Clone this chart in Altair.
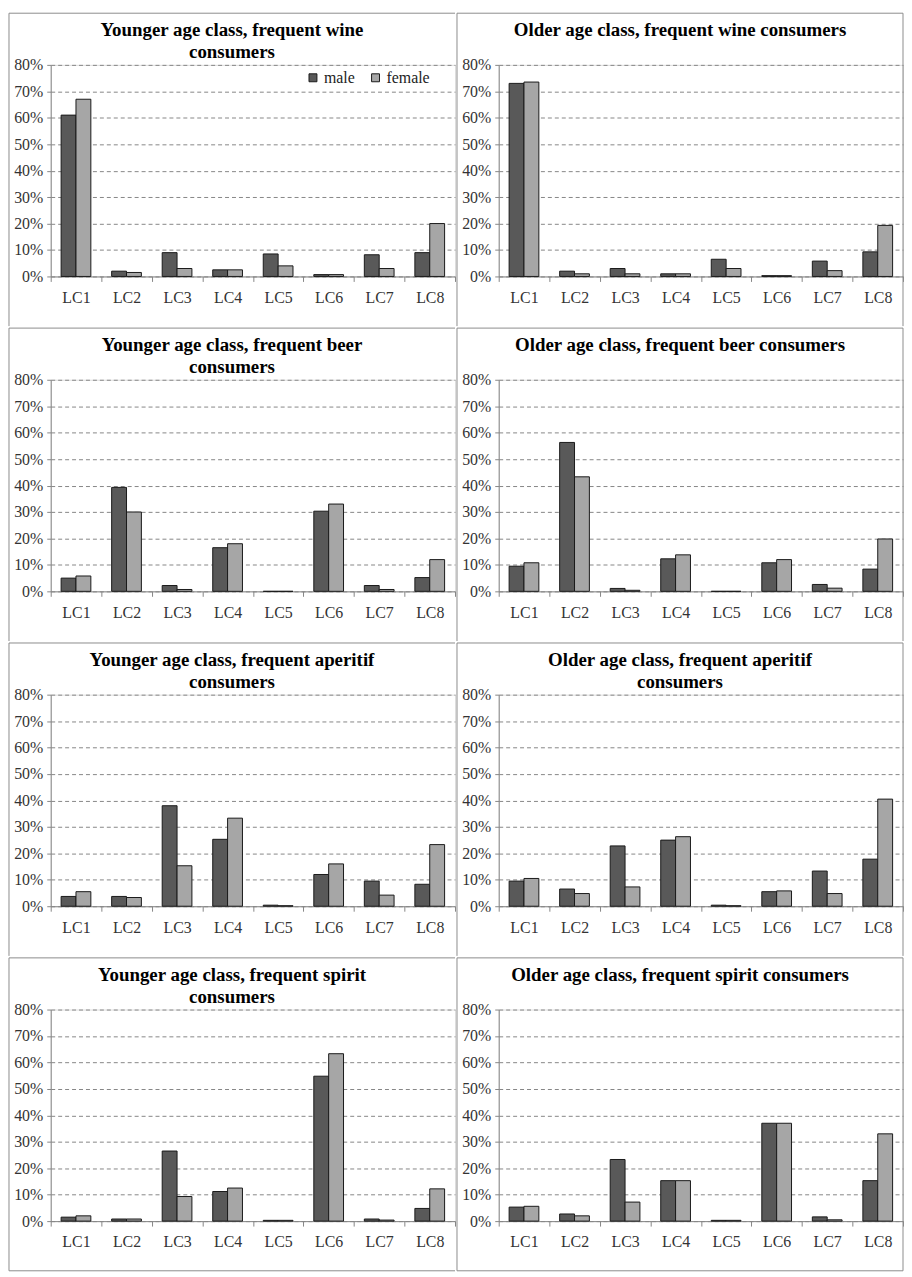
import altair as alt
import pandas as pd

classes = ["LC1", "LC2", "LC3", "LC4", "LC5", "LC6", "LC7", "LC8"]
sexes = ["male", "female"]
colors = ["#595959", "#a6a6a6"]
y_ticks = [0, 10, 20, 30, 40, 50, 60, 70, 80]

young_wine_male = [61.0, 2.0, 9.0, 2.5, 8.5, 0.7, 8.2, 9.0]
young_wine_female = [67.0, 1.5, 3.0, 2.5, 4.0, 0.7, 3.0, 20.0]
old_wine_male = [73.0, 2.0, 3.0, 1.0, 6.5, 0.3, 5.8, 9.3]
old_wine_female = [73.5, 1.0, 1.0, 1.0, 3.0, 0.3, 2.2, 19.3]
young_beer_male = [5.0, 39.3, 2.2, 16.5, 0.0, 30.3, 2.2, 5.2]
young_beer_female = [5.8, 30.0, 0.7, 18.0, 0.0, 33.0, 0.7, 12.0]
old_beer_male = [9.5, 56.3, 1.1, 12.3, 0.0, 10.8, 2.6, 8.4]
old_beer_female = [10.8, 43.3, 0.4, 13.8, 0.0, 12.0, 1.2, 19.8]
young_aperitif_male = [3.7, 3.7, 38.0, 25.3, 0.4, 12.0, 9.5, 8.3]
young_aperitif_female = [5.5, 3.3, 15.3, 33.3, 0.2, 16.0, 4.2, 23.3]
old_aperitif_male = [9.5, 6.5, 22.8, 25.0, 0.4, 5.5, 13.3, 17.8]
old_aperitif_female = [10.5, 4.8, 7.3, 26.3, 0.2, 5.8, 4.8, 40.5]
young_spirit_male = [1.5, 0.8, 26.5, 11.2, 0.3, 54.8, 0.8, 4.8]
young_spirit_female = [2.0, 0.8, 9.3, 12.5, 0.3, 63.3, 0.4, 12.2]
old_spirit_male = [5.3, 2.7, 23.3, 15.3, 0.3, 37.0, 1.6, 15.3]
old_spirit_female = [5.6, 2.0, 7.2, 15.3, 0.3, 37.0, 0.5, 33.0]

FONT = "Liberation Serif"
GREY = "#868686"
BORDER = "#8c8c8c"
W, H = 407, 213
LEFT, TOP, BOTTOM = -42, -52, 263


def edge(one, x1, x2, y1, y2):
    return alt.Chart(one).mark_rule(color=BORDER, strokeWidth=1).encode(
        x=alt.value(x1), x2=alt.value(x2), y=alt.value(y1), y2=alt.value(y2))


def panel(title_text, male, female, show_legend=False, right=False, bottom=False):
    df = pd.DataFrame({
        "lc": classes * 2,
        "sex": ["male"] * len(classes) + ["female"] * len(classes),
        "pct": male + female,
    })
    if show_legend:
        leg = alt.Legend(title=None, orient="none", legendX=256, legendY=5,
                         direction="horizontal", symbolType="square", symbolSize=64,
                         symbolStrokeColor="#1a1a1a", symbolStrokeWidth=1,
                         labelFont=FONT, labelFontSize=16, labelColor="#222222",
                         labelOffset=3, columnPadding=12, padding=0)
    else:
        leg = None
    bars = alt.Chart(df).mark_bar(stroke="#1a1a1a", strokeWidth=1).encode(
        x=alt.X("lc:N", sort=classes, title=None,
                scale=alt.Scale(paddingInner=0, paddingOuter=0),
                axis=alt.Axis(labelAngle=0, tickBand="extent", tickSize=5,
                              tickColor=GREY, domainColor=GREY, grid=False,
                              labelFont=FONT, labelFontSize=16, labelColor="#333333",
                              labelPadding=8)),
        xOffset=alt.XOffset("sex:N", sort=sexes,
                            scale=alt.Scale(paddingInner=0, paddingOuter=0.7)),
        y=alt.Y("pct:Q", title=None, scale=alt.Scale(domain=[0, 80]),
                axis=alt.Axis(values=y_ticks, labelExpr="datum.value + '%'",
                              grid=True, gridDash=[4, 3], gridColor=GREY,
                              tickDash=[4, 3], tickSize=6, tickColor=GREY,
                              domainColor=GREY, labelFont=FONT, labelFontSize=16,
                              labelColor="#333333", labelPadding=2)),
        color=alt.Color("sex:N", scale=alt.Scale(domain=sexes, range=colors), legend=leg),
    )
    one = pd.DataFrame({"title": [title_text]})
    cell = alt.Chart(one).mark_rect(fill="white", fillOpacity=0, strokeWidth=0).encode(
        x=alt.value(LEFT), x2=alt.value(W), y=alt.value(TOP), y2=alt.value(BOTTOM))
    layers = [cell, edge(one, LEFT, W, TOP, TOP), edge(one, LEFT, LEFT, TOP, BOTTOM)]
    if right:
        layers.append(edge(one, W, W, TOP, BOTTOM))
    if bottom:
        layers.append(edge(one, LEFT, W, BOTTOM, BOTTOM))
    title = alt.Chart(one).mark_text(
        font=FONT, fontSize=19, fontWeight="bold", color="black", align="center",
        baseline="top", lineBreak="\n", lineHeight=22
    ).encode(x=alt.value((LEFT + W) / 2), y=alt.value(-44), text="title:N")
    layers += [bars, title]
    return alt.layer(*layers).properties(width=W, height=H)


p1 = panel("Younger age class, frequent wine\nconsumers", young_wine_male, young_wine_female, show_legend=True)
p2 = panel("Older age class, frequent wine consumers", old_wine_male, old_wine_female, right=True)
p3 = panel("Younger age class, frequent beer\nconsumers", young_beer_male, young_beer_female)
p4 = panel("Older age class, frequent beer consumers", old_beer_male, old_beer_female, right=True)
p5 = panel("Younger age class, frequent aperitif\nconsumers", young_aperitif_male, young_aperitif_female)
p6 = panel("Older age class, frequent aperitif\nconsumers", old_aperitif_male, old_aperitif_female, right=True)
p7 = panel("Younger age class, frequent spirit\nconsumers", young_spirit_male, young_spirit_female, bottom=True)
p8 = panel("Older age class, frequent spirit consumers", old_spirit_male, old_spirit_female, right=True, bottom=True)

rows = [
    alt.hconcat(a, b, spacing=0).resolve_scale(color="independent")
    for a, b in [(p1, p2), (p3, p4), (p5, p6), (p7, p8)]
]
chart = alt.vconcat(*rows, spacing=0).resolve_scale(color="independent").properties(
    padding=0
).configure_view(strokeWidth=0).configure(background="white")

chart.save("out.html", embed_options={"renderer": "svg", "actions": False})
